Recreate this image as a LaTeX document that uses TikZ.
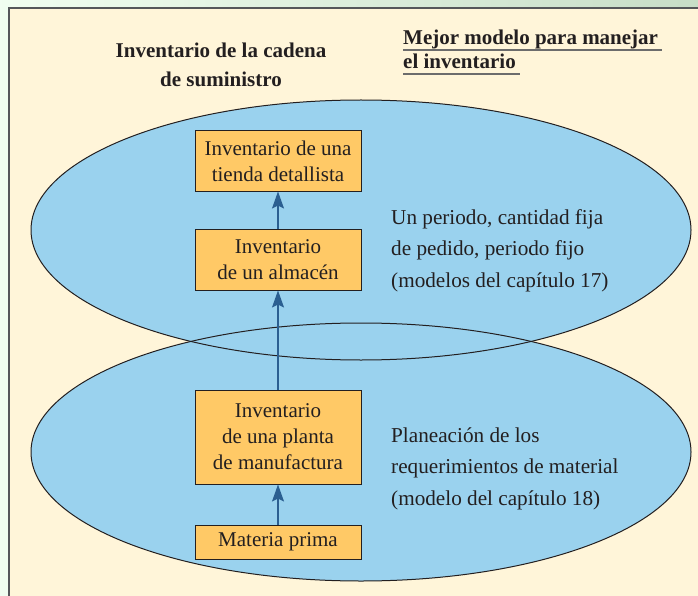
\documentclass[tikz,border=0pt]{standalone}
\usepackage{fontspec}
\setmainfont{Liberation Serif}
\usepackage{xcolor}
\usetikzlibrary{arrows.meta, positioning}

\definecolor{panelcream}{HTML}{FFF5D9}
\definecolor{framegray}{HTML}{55575A}
\definecolor{ovalblue}{HTML}{9AD2EE}
\definecolor{boxorange}{HTML}{FFC966}
\definecolor{arrowblue}{HTML}{2B5F91}
\definecolor{textdark}{HTML}{231F20}

\begin{document}
\begin{tikzpicture}[
  x=1pt, y=-1pt,
  node distance=37pt,
  inv/.style={rectangle, draw=textdark, fill=boxorange, line width=1pt, minimum width=166pt, align=center, inner sep=0pt, font=\fontsize{21}{26}\selectfont, text=textdark},
  modeltext/.style={anchor=base west, align=left, inner sep=0pt, font=\fontsize{21.2}{31.5}\selectfont, text=textdark},
  heading/.style={inner sep=0pt, font=\bfseries\fontsize{21}{29}\selectfont, text=textdark},
  uline/.style={line width=1.6pt, draw=gray!85!black},
  oval/.style={draw=textdark, line width=1pt},
  arr/.style={-{Stealth[length=17pt, width=12pt, inset=3pt]}, line width=1.2pt, arrowblue},
]
  % Background
  \useasboundingbox (0,0) rectangle (698,596);
  \shade[left color=gray!12!green!6, right color=green!25!gray!35] (0,0) rectangle (698,596);
  \fill[panelcream] (8,7) rectangle (698,596);
  \draw[framegray, line width=2pt] (9,596) -- (9,8) -- (698,8);

  % Ovals
  \fill[ovalblue] (361,230) ellipse [x radius=330, y radius=130];
  \fill[ovalblue] (361,452) ellipse [x radius=330, y radius=129];
  \draw[oval] (361,230) ellipse [x radius=330, y radius=130];
  \draw[oval] (361,452) ellipse [x radius=330, y radius=129];

  % Headings
  \node[heading, align=center, anchor=base] (chain) at (221,87) {Inventario de la cadena\\de suministro};
  \node[heading, anchor=base west, text depth=5pt] (best1) at (403,45) {Mejor modelo para manejar};
  \node[heading, anchor=base west, text depth=5pt] (best2) at (403,69) {el inventario};
  \draw[uline] (best1.south west) -- ([xshift=4pt]best1.south east);
  \draw[uline] (best2.south west) -- ([xshift=4pt]best2.south east);

  % Boxes
  \node[inv, minimum height=60pt] (retail) at (278,161) {Inventario de una\\tienda detallista};
  \node[inv, minimum height=61pt, below=of retail] (warehouse) {Inventario\\de un almac\'en};
  \node[inv, minimum height=94pt, below=99pt of warehouse] (plant) {Inventario\\de una planta\\de manufactura};
  \node[inv, minimum height=34pt, below=40pt of plant] (raw) {Materia prima};

  % Arrows
  \draw[arr] (raw) -- (plant);
  \draw[arr] (plant) -- (warehouse);
  \draw[arr] (warehouse) -- (retail);

  % Model texts
  \node[modeltext] (eoq) at (391,287) {Un periodo, cantidad fija\\de pedido, periodo fijo\\(modelos del cap\'itulo 17)};
  \node[modeltext] (mrp) at (391,505) {Planeaci\'on de los\\requerimientos de material\\(modelo del cap\'itulo 18)};
\end{tikzpicture}
\end{document}
